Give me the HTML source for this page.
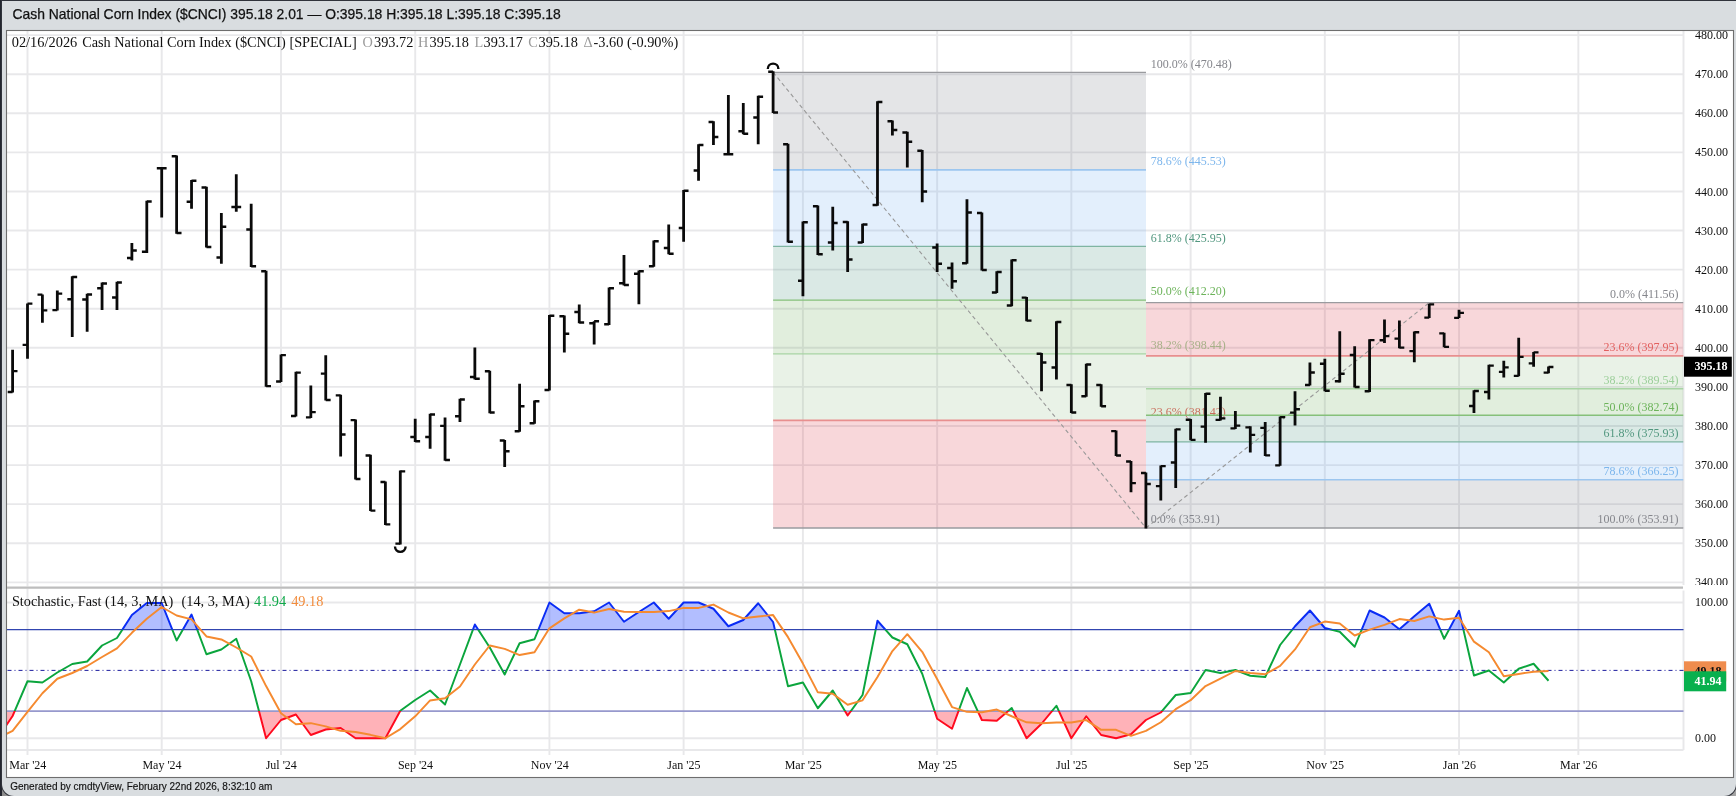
<!DOCTYPE html>
<html><head><meta charset="utf-8"><title>Cash National Corn Index</title>
<style>
html,body{margin:0;padding:0;width:1736px;height:796px;overflow:hidden;background:#23262f;font-family:"Liberation Sans",sans-serif;}
.cnr{position:absolute;top:782px;width:16px;height:14px;background:linear-gradient(90deg,#8a8a8a,#a6a6a6);}
#panel{position:absolute;left:1.7px;top:0.8px;width:1734.3px;height:795.2px;background:#d9dde0;border-radius:0 0 12px 12px;box-shadow:0 0 0 1px #30333b;}
svg{will-change:transform;}
</style></head><body>
<div class="cnr" style="left:1.7px"></div><div class="cnr" style="left:1720px"></div>
<div id="panel"></div>
<svg width="1736" height="796" viewBox="0 0 1736 796" style="position:absolute;left:0;top:0">
<defs>
<clipPath id="cpP"><rect x="7" y="31" width="1676.5" height="554.5"/></clipPath>
<clipPath id="cpA"><rect x="1683.5" y="31" width="50" height="554"/></clipPath>
<clipPath id="cpS"><rect x="7" y="590.5" width="1676.5" height="159.5"/></clipPath>
<clipPath id="cpHi"><rect x="7" y="590.5" width="1676.5" height="39.14999999999998"/></clipPath>
<clipPath id="cpMid"><rect x="7" y="629.65" width="1676.5" height="81.45000000000005"/></clipPath>
<clipPath id="cpLo"><rect x="7" y="711.1" width="1676.5" height="38.89999999999998"/></clipPath>
</defs>
<rect x="6.5" y="30.5" width="1727" height="747" fill="#fff" stroke="#6e6e6e" stroke-width="1.1"/>
<path d="M7 582.35H1683.5M7 543.26H1683.5M7 504.17H1683.5M7 465.08H1683.5M7 425.99H1683.5M7 386.9H1683.5M7 347.81H1683.5M7 308.72H1683.5M7 269.63H1683.5M7 230.54H1683.5M7 191.45H1683.5M7 152.36H1683.5M7 113.27H1683.5M7 74.18H1683.5M7 35.09H1683.5M27.5 31V586.6M27.5 588.8V755M161.71 31V586.6M161.71 588.8V755M281 31V586.6M281 588.8V755M415.21 31V586.6M415.21 588.8V755M549.42 31V586.6M549.42 588.8V755M683.63 31V586.6M683.63 588.8V755M802.92 31V586.6M802.92 588.8V755M937.13 31V586.6M937.13 588.8V755M1071.34 31V586.6M1071.34 588.8V755M1190.64 31V586.6M1190.64 588.8V755M1324.84 31V586.6M1324.84 588.8V755M1459.05 31V586.6M1459.05 588.8V755M1578.35 31V586.6M1578.35 588.8V755M7 738.25H1683.5M7 602.5H1683.5M7 750H1683.5M1683.5 31V585M1683.5 590.5V750" stroke="rgba(50,50,70,0.115)" stroke-width="1.9" fill="none"/>
<path d="M7 587.7H1683.0" stroke="#bdbdbd" stroke-width="2.2"/>
<g clip-path="url(#cpP)" font-family="Liberation Serif, serif" font-size="12">
<rect x="773.1" y="72.3" width="372.9" height="97.53" fill="rgba(120,123,134,0.2)"/>
<rect x="773.1" y="169.83" width="372.9" height="76.54" fill="rgba(115,175,240,0.2)"/>
<rect x="773.1" y="246.37" width="372.9" height="53.75" fill="rgba(70,145,125,0.2)"/>
<rect x="773.1" y="300.12" width="372.9" height="53.79" fill="rgba(105,170,85,0.2)"/>
<rect x="773.1" y="353.91" width="372.9" height="66.53" fill="rgba(145,192,135,0.2)"/>
<rect x="773.1" y="420.44" width="372.9" height="107.54" fill="rgba(220,53,69,0.2)"/>
<path d="M773.1 72.3H1146" stroke="#9a9b9f" stroke-width="1.35"/>
<path d="M773.1 169.83H1146" stroke="#9cc6ef" stroke-width="1.65"/>
<path d="M773.1 246.37H1146" stroke="#7fb5a2" stroke-width="1.35"/>
<path d="M773.1 300.12H1146" stroke="#86c07a" stroke-width="1.35"/>
<path d="M773.1 353.91H1146" stroke="#a8d4a4" stroke-width="1.35"/>
<path d="M773.1 420.44H1146" stroke="#e88f8f" stroke-width="1.65"/>
<path d="M773.1 527.98H1146" stroke="#9a9b9f" stroke-width="1.35"/>
<path d="M773.1 72.3L1146 527.98" stroke="#989898" stroke-width="1.1" stroke-dasharray="4 3" fill="none"/>
<text x="1150.7" y="67.6" text-anchor="start" fill="#85868c">100.0% (470.48)</text>
<text x="1150.7" y="165.13" text-anchor="start" fill="#7db6ec">78.6% (445.53)</text>
<text x="1150.7" y="241.67" text-anchor="start" fill="#52977f">61.8% (425.95)</text>
<text x="1150.7" y="295.42" text-anchor="start" fill="#6cb35a">50.0% (412.20)</text>
<text x="1150.7" y="349.21" text-anchor="start" fill="#9ccf9a">38.2% (398.44)</text>
<text x="1150.7" y="415.74" text-anchor="start" fill="#e2605f">23.6% (381.42)</text>
<text x="1150.7" y="523.28" text-anchor="start" fill="#85868c">0.0% (353.91)</text>
<rect x="1146" y="302.62" width="537.5" height="53.2" fill="rgba(220,53,69,0.2)"/>
<rect x="1146" y="355.82" width="537.5" height="32.87" fill="rgba(145,192,135,0.2)"/>
<rect x="1146" y="388.7" width="537.5" height="26.58" fill="rgba(105,170,85,0.2)"/>
<rect x="1146" y="415.28" width="537.5" height="26.62" fill="rgba(70,145,125,0.2)"/>
<rect x="1146" y="441.9" width="537.5" height="37.84" fill="rgba(115,175,240,0.2)"/>
<rect x="1146" y="479.74" width="537.5" height="48.24" fill="rgba(120,123,134,0.2)"/>
<path d="M1146 302.62H1683.5" stroke="#9a9b9f" stroke-width="1.35"/>
<path d="M1146 355.82H1683.5" stroke="#e88f8f" stroke-width="1.65"/>
<path d="M1146 388.7H1683.5" stroke="#a8d4a4" stroke-width="1.35"/>
<path d="M1146 415.28H1683.5" stroke="#86c07a" stroke-width="1.35"/>
<path d="M1146 441.9H1683.5" stroke="#7fb5a2" stroke-width="1.35"/>
<path d="M1146 479.74H1683.5" stroke="#9cc6ef" stroke-width="1.65"/>
<path d="M1146 527.98H1683.5" stroke="#9a9b9f" stroke-width="1.35"/>
<path d="M1146 527.98L1429.23 302.62" stroke="#989898" stroke-width="1.1" stroke-dasharray="4 3" fill="none"/>
<text x="1678.5" y="297.92" text-anchor="end" fill="#85868c">0.0% (411.56)</text>
<text x="1678.5" y="351.12" text-anchor="end" fill="#e2605f">23.6% (397.95)</text>
<text x="1678.5" y="384" text-anchor="end" fill="#9ccf9a">38.2% (389.54)</text>
<text x="1678.5" y="410.58" text-anchor="end" fill="#6cb35a">50.0% (382.74)</text>
<text x="1678.5" y="437.2" text-anchor="end" fill="#52977f">61.8% (375.93)</text>
<text x="1678.5" y="475.04" text-anchor="end" fill="#7db6ec">78.6% (366.25)</text>
<text x="1678.5" y="523.28" text-anchor="end" fill="#85868c">100.0% (353.91)</text>
</g>
<g clip-path="url(#cpP)" stroke="#0a0a0a" fill="none"><path d="M12.59 349.7V392.5M27.5 303.4V358.8M42.41 294.4V322.7M57.32 290.4V310.4M72.24 276.25V337M87.15 293.75V331.75M102.06 282.5V310M116.97 281.75V310M131.88 243V260.5M146.8 200.75V253M161.71 167.5V217.5M176.62 155.5V233.75M191.53 180V208.75M206.44 186.75V247.5M221.36 213V263.75M236.27 174.25V211.75M251.18 203.75V267M266.09 270.75V386.7M281 354.4V382M295.92 371.8V416.6M310.83 385.6V418M325.74 355.2V400.5M340.65 394.7V456.6M355.56 419.6V479.6M370.48 454.7V511.1M385.39 481.5V525M400.3 470.5V544.5M415.21 418.75V442M430.12 413.75V448.75M445.04 417.5V460.75M459.95 398.75V422M474.86 347.5V379.5M489.77 370.75V413.25M504.68 440V467M519.6 383.75V431.75M534.51 400.5V423.75M549.42 315V390.5M564.33 315.5V352.5M579.24 304.5V323.25M594.16 321.25V344.5M609.07 287.5V325M623.98 255V285.5M638.89 270.5V304.25M653.8 240.5V266.75M668.72 224.5V254.25M683.63 190V241.75M698.54 144.25V180.75M713.45 121.25V145M728.36 95V155M743.28 103V134.25M758.19 95.75V144.25M773.1 71.25V113M788.01 143.75V242.5M802.92 221.5V296.25M817.84 205.5V255M832.75 206.75V250.5M847.66 221.25V272M862.57 223.75V243M877.48 101.25V205.75M892.4 120.5V135.5M907.31 131.75V167.5M922.22 150V202.25M937.13 243.5V272M952.04 262.5V288.75M966.96 199.25V263.75M981.87 212.5V270.5M996.78 271.25V293M1011.69 259.5V306.25M1026.6 297V321.25M1041.52 353V391.25M1056.43 321.25V379.5M1071.34 384.25V413M1086.25 363.75V396.75M1101.16 384.25V406.75M1116.08 430.4V456M1130.99 461V492.3M1145.9 472.4V528.4M1160.81 465.5V500.6M1175.72 428.7V487.9M1190.64 419.1V440.25M1205.55 393V442.8M1220.46 396.75V420.5M1235.37 410.9V429M1250.28 426.3V452.4M1265.2 421.9V456M1280.11 416.5V465.8M1295.02 391.25V425.6M1309.93 362.5V385.5M1324.84 358.75V391.25M1339.76 331.25V382.5M1354.67 346.25V387.5M1369.58 339.25V392M1384.49 319.4V342.9M1399.4 320.5V348.2M1414.32 331.5V362.3M1429.23 303.7V318.1M1444.14 332.7V347.3M1459.05 309.7V318.1M1473.96 390.2V413M1488.88 364.7V399.4M1503.79 360.7V377.4M1518.7 337.8V376.3M1533.61 351.9V366.8M1548.52 366.5V373.2" stroke-width="2.8"/><path d="M7.69 392H12.59M12.59 371.2H17.49M22.6 344.8H27.5M27.5 303.6H32.4M37.51 294.6H42.41M42.41 310.3H47.31M52.42 310.2H57.32M57.32 293.6H62.22M67.34 299.25H72.24M72.24 277H77.14M82.25 299.5H87.15M87.15 294.5H92.05M97.16 288.25H102.06M102.06 283.5H106.96M112.07 297.5H116.97M116.97 282.5H121.87M126.98 258H131.88M131.88 250.5H136.78M141.9 251.75H146.8M146.8 201.5H151.7M156.81 168.25H161.71M161.71 168.25H166.61M171.72 156.25H176.62M176.62 233H181.52M186.63 201.75H191.53M191.53 180.75H196.43M201.54 187.5H206.44M206.44 247H211.34M216.46 257.5H221.36M221.36 226.75H226.26M231.37 207H236.27M236.27 207H241.17M246.28 229.5H251.18M251.18 266.25H256.08M261.19 271.25H266.09M266.09 386.2H270.99M276.1 381.5H281M281 355.2H285.9M291.02 416H295.92M295.92 372.6H300.82M305.93 417.4H310.83M310.83 412.1H315.73M320.84 373.7H325.74M325.74 400H330.64M335.75 395.3H340.65M340.65 434.5H345.55M350.66 420.2H355.56M355.56 479H360.46M365.58 455.5H370.48M370.48 510.6H375.38M380.49 482H385.39M385.39 524.4H390.29M395.4 543.7H400.3M400.3 471.3H405.2M410.31 437H415.21M415.21 441.25H420.11M425.22 437H430.12M430.12 414.5H435.02M440.14 425.8H445.04M445.04 460H449.94M455.05 416.25H459.95M459.95 399.5H464.85M469.96 377H474.86M474.86 378.75H479.76M484.87 371.25H489.77M489.77 412.5H494.67M499.78 440.5H504.68M504.68 451.25H509.58M514.7 431.25H519.6M519.6 406.25H524.5M529.61 423.25H534.51M534.51 401.25H539.41M544.52 390H549.42M549.42 315.75H554.32M559.43 316.25H564.33M564.33 333.75H569.23M574.34 312H579.24M579.24 322.5H584.14M589.26 323.25H594.16M594.16 321.25H599.06M604.17 324.25H609.07M609.07 288.25H613.97M619.08 283.25H623.98M623.98 285H628.88M633.99 273.75H638.89M638.89 271.25H643.79M648.9 266.25H653.8M653.8 241.25H658.7M663.82 248H668.72M668.72 253.75H673.62M678.73 228H683.63M683.63 190.75H688.53M693.64 170.5H698.54M698.54 145H703.44M708.55 122H713.45M713.45 137H718.35M723.46 154.25H728.36M728.36 154.25H733.26M738.38 131.25H743.28M743.28 133.75H748.18M753.29 117.5H758.19M758.19 96.75H763.09M768.2 71.75H773.1M773.1 112.5H778M783.11 144.25H788.01M788.01 241.75H792.91M798.02 280.75H802.92M802.92 222.25H807.82M812.94 206.25H817.84M817.84 254.25H822.74M827.85 242.5H832.75M832.75 223H837.65M842.76 222H847.66M847.66 259.5H852.56M857.67 242.5H862.57M862.57 224.5H867.47M872.58 205H877.48M877.48 102H882.38M887.5 121.25H892.4M892.4 130H897.3M902.41 132.5H907.31M907.31 141.75H912.21M917.32 150.75H922.22M922.22 191.5H927.12M932.23 247.5H937.13M937.13 263.75H942.03M947.14 268H952.04M952.04 281.25H956.94M962.06 263.25H966.96M966.96 212.5H971.86M976.97 213H981.87M981.87 270H986.77M991.88 292.5H996.78M996.78 272H1001.68M1006.79 305.5H1011.69M1011.69 260.25H1016.59M1021.7 297.6H1026.6M1026.6 320.6H1031.5M1036.62 353.75H1041.52M1041.52 362.5H1046.42M1051.53 367.5H1056.43M1056.43 322H1061.33M1066.44 385H1071.34M1071.34 412.5H1076.24M1081.35 396.25H1086.25M1086.25 364.5H1091.15M1096.26 385H1101.16M1101.16 406.25H1106.06M1111.18 431.2H1116.08M1116.08 455.5H1120.98M1126.09 461.5H1130.99M1130.99 483.2H1135.89M1141 473H1145.9M1145.9 484H1150.8M1155.91 486.2H1160.81M1160.81 466.2H1165.71M1170.82 462.5H1175.72M1175.72 429.4H1180.62M1185.74 419.75H1190.64M1190.64 439.8H1195.54M1200.65 426.7H1205.55M1205.55 393.75H1210.45M1215.56 419.8H1220.46M1220.46 418.4H1225.36M1230.47 428.4H1235.37M1235.37 425.6H1240.27M1245.38 427.4H1250.28M1250.28 434.8H1255.18M1260.3 427.8H1265.2M1265.2 455.4H1270.1M1275.21 465.3H1280.11M1280.11 417.1H1285.01M1290.12 412.6H1295.02M1295.02 409.25H1299.92M1305.03 385H1309.93M1309.93 372.5H1314.83M1319.94 363.75H1324.84M1324.84 390.75H1329.74M1334.86 381.25H1339.76M1339.76 373.75H1344.66M1349.77 355H1354.67M1354.67 387H1359.57M1364.68 391.25H1369.58M1369.58 340.2H1374.48M1379.59 340.25H1384.49M1384.49 336.2H1389.39M1394.5 338.7H1399.4M1399.4 347.6H1404.3M1409.42 351.1H1414.32M1414.32 332.25H1419.22M1424.33 317.6H1429.23M1429.23 304.4H1434.13M1439.24 333.3H1444.14M1444.14 346.8H1449.04M1454.15 317.8H1459.05M1459.05 312.9H1463.95M1469.06 406H1473.96M1473.96 391H1478.86M1483.98 392H1488.88M1488.88 365.6H1493.78M1498.89 371.8H1503.79M1503.79 367.4H1508.69M1513.8 375.8H1518.7M1518.7 356.8H1523.6M1528.71 363.3H1533.61M1533.61 352.4H1538.51M1543.62 372.6H1548.52M1548.52 367H1553.42" stroke-width="2.3"/></g>
<path d="M767.8 68.9A5.3 5.3 0 0 1 778.4 68.9" stroke="#0a0a0a" stroke-width="2.4" fill="none"/>
<path d="M395 546.6A5.3 5.3 0 0 0 405.6 546.6" stroke="#0a0a0a" stroke-width="2.4" fill="none"/>
<g font-family="Liberation Serif, serif" font-size="12" fill="#111" text-anchor="start">
<g clip-path="url(#cpA)">
<text x="1695" y="586.45">340.00</text>
<text x="1695" y="547.36">350.00</text>
<text x="1695" y="508.27">360.00</text>
<text x="1695" y="469.18">370.00</text>
<text x="1695" y="430.09">380.00</text>
<text x="1695" y="391">390.00</text>
<text x="1695" y="351.91">400.00</text>
<text x="1695" y="312.82">410.00</text>
<text x="1695" y="273.73">420.00</text>
<text x="1695" y="234.64">430.00</text>
<text x="1695" y="195.55">440.00</text>
<text x="1695" y="156.46">450.00</text>
<text x="1695" y="117.37">460.00</text>
<text x="1695" y="78.28">470.00</text>
<text x="1695" y="39.19">480.00</text>
</g>
<text x="1695" y="741.85">0.00</text>
<text x="1695" y="606.1">100.00</text>
</g>
<g>
<polygon clip-path="url(#cpHi)" points="-47.06,629.65 -47.06,738.25 -32.15,738.25 -17.24,738.25 -2.32,738.25 12.59,716 27.5,681.25 42.41,682.5 57.32,672.5 72.24,664 87.15,661.5 102.06,645.5 116.97,638 131.88,615 146.8,603 161.71,603 176.62,640.5 191.53,614.5 206.44,654.25 221.36,649.5 236.27,638.75 251.18,681.25 266.09,738.25 281,720 295.92,714.5 310.83,735 325.74,729.5 340.65,728 355.56,738.25 370.48,738.25 385.39,738.25 400.3,710.75 415.21,700 430.12,690.5 445.04,704.5 459.95,664.5 474.86,624.5 489.77,647.5 504.68,674.5 519.6,643.25 534.51,639.25 549.42,602.5 564.33,613.25 579.24,613.25 594.16,611.25 609.07,602.5 623.98,621.75 638.89,612 653.8,602.5 668.72,618.75 683.63,602.5 698.54,602.5 713.45,608.75 728.36,626.25 743.28,620 758.19,603.25 773.1,622 788.01,686.25 802.92,682.5 817.84,708.25 832.75,690.5 847.66,715.5 862.57,695 877.48,620.75 892.4,637.5 907.31,644.25 922.22,673.75 937.13,718.75 952.04,728.75 966.96,688 981.87,720 996.78,720.75 1011.69,708 1026.6,738.25 1041.52,723.75 1056.43,705.75 1071.34,738.25 1086.25,716.25 1101.16,735 1116.08,738.25 1130.99,734.25 1145.9,720 1160.81,712.5 1175.72,695 1190.64,693 1205.55,670 1220.46,673 1235.37,670 1250.28,675.75 1265.2,677 1280.11,645 1295.02,626.25 1309.93,610.5 1324.84,628 1339.76,631.75 1354.67,646.75 1369.58,610.5 1384.49,617.5 1399.4,629.25 1414.32,616.25 1429.23,603.75 1444.14,638.75 1459.05,610.75 1473.96,675.5 1488.88,670.5 1503.79,682.5 1518.7,668.75 1533.61,663.75 1548.52,680.75 1548.52,629.65" fill="rgba(0,40,255,0.3)"/>
<polygon clip-path="url(#cpLo)" points="-47.06,711.1 -47.06,738.25 -32.15,738.25 -17.24,738.25 -2.32,738.25 12.59,716 27.5,681.25 42.41,682.5 57.32,672.5 72.24,664 87.15,661.5 102.06,645.5 116.97,638 131.88,615 146.8,603 161.71,603 176.62,640.5 191.53,614.5 206.44,654.25 221.36,649.5 236.27,638.75 251.18,681.25 266.09,738.25 281,720 295.92,714.5 310.83,735 325.74,729.5 340.65,728 355.56,738.25 370.48,738.25 385.39,738.25 400.3,710.75 415.21,700 430.12,690.5 445.04,704.5 459.95,664.5 474.86,624.5 489.77,647.5 504.68,674.5 519.6,643.25 534.51,639.25 549.42,602.5 564.33,613.25 579.24,613.25 594.16,611.25 609.07,602.5 623.98,621.75 638.89,612 653.8,602.5 668.72,618.75 683.63,602.5 698.54,602.5 713.45,608.75 728.36,626.25 743.28,620 758.19,603.25 773.1,622 788.01,686.25 802.92,682.5 817.84,708.25 832.75,690.5 847.66,715.5 862.57,695 877.48,620.75 892.4,637.5 907.31,644.25 922.22,673.75 937.13,718.75 952.04,728.75 966.96,688 981.87,720 996.78,720.75 1011.69,708 1026.6,738.25 1041.52,723.75 1056.43,705.75 1071.34,738.25 1086.25,716.25 1101.16,735 1116.08,738.25 1130.99,734.25 1145.9,720 1160.81,712.5 1175.72,695 1190.64,693 1205.55,670 1220.46,673 1235.37,670 1250.28,675.75 1265.2,677 1280.11,645 1295.02,626.25 1309.93,610.5 1324.84,628 1339.76,631.75 1354.67,646.75 1369.58,610.5 1384.49,617.5 1399.4,629.25 1414.32,616.25 1429.23,603.75 1444.14,638.75 1459.05,610.75 1473.96,675.5 1488.88,670.5 1503.79,682.5 1518.7,668.75 1533.61,663.75 1548.52,680.75 1548.52,711.1" fill="rgba(255,0,20,0.3)"/>
<path d="M7 629.65H1683.5" stroke="#3145b0" stroke-width="1.2"/>
<path d="M7 711.1H1683.5" stroke="#9799cd" stroke-width="1.6"/>
<path d="M7 670.38H1683.5" stroke="#1b1b9e" stroke-width="1.0" stroke-dasharray="4 3 1 3" stroke-dashoffset="10.5"/>
<polyline clip-path="url(#cpHi)" points="-47.06,738.25 -32.15,738.25 -17.24,738.25 -2.32,738.25 12.59,716 27.5,681.25 42.41,682.5 57.32,672.5 72.24,664 87.15,661.5 102.06,645.5 116.97,638 131.88,615 146.8,603 161.71,603 176.62,640.5 191.53,614.5 206.44,654.25 221.36,649.5 236.27,638.75 251.18,681.25 266.09,738.25 281,720 295.92,714.5 310.83,735 325.74,729.5 340.65,728 355.56,738.25 370.48,738.25 385.39,738.25 400.3,710.75 415.21,700 430.12,690.5 445.04,704.5 459.95,664.5 474.86,624.5 489.77,647.5 504.68,674.5 519.6,643.25 534.51,639.25 549.42,602.5 564.33,613.25 579.24,613.25 594.16,611.25 609.07,602.5 623.98,621.75 638.89,612 653.8,602.5 668.72,618.75 683.63,602.5 698.54,602.5 713.45,608.75 728.36,626.25 743.28,620 758.19,603.25 773.1,622 788.01,686.25 802.92,682.5 817.84,708.25 832.75,690.5 847.66,715.5 862.57,695 877.48,620.75 892.4,637.5 907.31,644.25 922.22,673.75 937.13,718.75 952.04,728.75 966.96,688 981.87,720 996.78,720.75 1011.69,708 1026.6,738.25 1041.52,723.75 1056.43,705.75 1071.34,738.25 1086.25,716.25 1101.16,735 1116.08,738.25 1130.99,734.25 1145.9,720 1160.81,712.5 1175.72,695 1190.64,693 1205.55,670 1220.46,673 1235.37,670 1250.28,675.75 1265.2,677 1280.11,645 1295.02,626.25 1309.93,610.5 1324.84,628 1339.76,631.75 1354.67,646.75 1369.58,610.5 1384.49,617.5 1399.4,629.25 1414.32,616.25 1429.23,603.75 1444.14,638.75 1459.05,610.75 1473.96,675.5 1488.88,670.5 1503.79,682.5 1518.7,668.75 1533.61,663.75 1548.52,680.75" stroke="#0a2cf5" stroke-width="1.95" fill="none" stroke-linejoin="round"/>
<polyline clip-path="url(#cpMid)" points="-47.06,738.25 -32.15,738.25 -17.24,738.25 -2.32,738.25 12.59,716 27.5,681.25 42.41,682.5 57.32,672.5 72.24,664 87.15,661.5 102.06,645.5 116.97,638 131.88,615 146.8,603 161.71,603 176.62,640.5 191.53,614.5 206.44,654.25 221.36,649.5 236.27,638.75 251.18,681.25 266.09,738.25 281,720 295.92,714.5 310.83,735 325.74,729.5 340.65,728 355.56,738.25 370.48,738.25 385.39,738.25 400.3,710.75 415.21,700 430.12,690.5 445.04,704.5 459.95,664.5 474.86,624.5 489.77,647.5 504.68,674.5 519.6,643.25 534.51,639.25 549.42,602.5 564.33,613.25 579.24,613.25 594.16,611.25 609.07,602.5 623.98,621.75 638.89,612 653.8,602.5 668.72,618.75 683.63,602.5 698.54,602.5 713.45,608.75 728.36,626.25 743.28,620 758.19,603.25 773.1,622 788.01,686.25 802.92,682.5 817.84,708.25 832.75,690.5 847.66,715.5 862.57,695 877.48,620.75 892.4,637.5 907.31,644.25 922.22,673.75 937.13,718.75 952.04,728.75 966.96,688 981.87,720 996.78,720.75 1011.69,708 1026.6,738.25 1041.52,723.75 1056.43,705.75 1071.34,738.25 1086.25,716.25 1101.16,735 1116.08,738.25 1130.99,734.25 1145.9,720 1160.81,712.5 1175.72,695 1190.64,693 1205.55,670 1220.46,673 1235.37,670 1250.28,675.75 1265.2,677 1280.11,645 1295.02,626.25 1309.93,610.5 1324.84,628 1339.76,631.75 1354.67,646.75 1369.58,610.5 1384.49,617.5 1399.4,629.25 1414.32,616.25 1429.23,603.75 1444.14,638.75 1459.05,610.75 1473.96,675.5 1488.88,670.5 1503.79,682.5 1518.7,668.75 1533.61,663.75 1548.52,680.75" stroke="#0ba53d" stroke-width="1.95" fill="none" stroke-linejoin="round"/>
<polyline clip-path="url(#cpLo)" points="-47.06,738.25 -32.15,738.25 -17.24,738.25 -2.32,738.25 12.59,716 27.5,681.25 42.41,682.5 57.32,672.5 72.24,664 87.15,661.5 102.06,645.5 116.97,638 131.88,615 146.8,603 161.71,603 176.62,640.5 191.53,614.5 206.44,654.25 221.36,649.5 236.27,638.75 251.18,681.25 266.09,738.25 281,720 295.92,714.5 310.83,735 325.74,729.5 340.65,728 355.56,738.25 370.48,738.25 385.39,738.25 400.3,710.75 415.21,700 430.12,690.5 445.04,704.5 459.95,664.5 474.86,624.5 489.77,647.5 504.68,674.5 519.6,643.25 534.51,639.25 549.42,602.5 564.33,613.25 579.24,613.25 594.16,611.25 609.07,602.5 623.98,621.75 638.89,612 653.8,602.5 668.72,618.75 683.63,602.5 698.54,602.5 713.45,608.75 728.36,626.25 743.28,620 758.19,603.25 773.1,622 788.01,686.25 802.92,682.5 817.84,708.25 832.75,690.5 847.66,715.5 862.57,695 877.48,620.75 892.4,637.5 907.31,644.25 922.22,673.75 937.13,718.75 952.04,728.75 966.96,688 981.87,720 996.78,720.75 1011.69,708 1026.6,738.25 1041.52,723.75 1056.43,705.75 1071.34,738.25 1086.25,716.25 1101.16,735 1116.08,738.25 1130.99,734.25 1145.9,720 1160.81,712.5 1175.72,695 1190.64,693 1205.55,670 1220.46,673 1235.37,670 1250.28,675.75 1265.2,677 1280.11,645 1295.02,626.25 1309.93,610.5 1324.84,628 1339.76,631.75 1354.67,646.75 1369.58,610.5 1384.49,617.5 1399.4,629.25 1414.32,616.25 1429.23,603.75 1444.14,638.75 1459.05,610.75 1473.96,675.5 1488.88,670.5 1503.79,682.5 1518.7,668.75 1533.61,663.75 1548.52,680.75" stroke="#ff0a1e" stroke-width="1.95" fill="none" stroke-linejoin="round"/>
<polyline clip-path="url(#cpS)" points="-17.24,738.25 -2.32,738.25 12.59,730.83 27.5,711.83 42.41,693.25 57.32,678.75 72.24,673 87.15,666 102.06,657 116.97,648.33 131.88,632.83 146.8,618.67 161.71,607 176.62,615.5 191.53,619.33 206.44,636.42 221.36,639.42 236.27,647.5 251.18,656.5 266.09,686.08 281,713.17 295.92,724.25 310.83,723.17 325.74,726.33 340.65,730.83 355.56,731.92 370.48,734.83 385.39,738.25 400.3,729.08 415.21,716.33 430.12,700.42 445.04,698.33 459.95,686.5 474.86,664.5 489.77,645.5 504.68,648.83 519.6,655.08 534.51,652.33 549.42,628.33 564.33,618.33 579.24,609.67 594.16,612.58 609.07,609 623.98,611.83 638.89,612.08 653.8,612.08 668.72,611.08 683.63,607.92 698.54,607.92 713.45,604.58 728.36,612.5 743.28,618.33 758.19,616.5 773.1,615.08 788.01,637.17 802.92,663.58 817.84,692.33 832.75,693.75 847.66,704.75 862.57,700.33 877.48,677.08 892.4,651.08 907.31,634.17 922.22,651.83 937.13,678.92 952.04,707.08 966.96,711.83 981.87,712.25 996.78,709.58 1011.69,716.25 1026.6,722.33 1041.52,723.33 1056.43,722.58 1071.34,722.58 1086.25,720.08 1101.16,729.83 1116.08,729.83 1130.99,735.83 1145.9,730.83 1160.81,722.25 1175.72,709.17 1190.64,700.17 1205.55,686 1220.46,678.67 1235.37,671 1250.28,672.92 1265.2,674.25 1280.11,665.92 1295.02,649.42 1309.93,627.25 1324.84,621.58 1339.76,623.42 1354.67,635.5 1369.58,629.67 1384.49,624.92 1399.4,619.08 1414.32,621 1429.23,616.42 1444.14,619.58 1459.05,617.75 1473.96,641.67 1488.88,652.25 1503.79,676.17 1518.7,673.92 1533.61,671.67 1548.52,671.08" stroke="#f58a30" stroke-width="1.95" fill="none" stroke-linejoin="round"/>
</g>
<g font-family="Liberation Serif, serif" font-size="12" font-weight="bold" fill="#fff" text-anchor="start">
<rect x="1684" y="356.7" width="47.8" height="20" fill="#000"/><text x="1694.6" y="370.3">395.18</text>
<rect x="1684" y="661.3" width="42.2" height="20" fill="#ef8c4e"/><text x="1694.4" y="675.4" fill="#111">49.18</text>
<rect x="1684" y="671.3" width="42.2" height="20" fill="#08b04e"/><text x="1694.4" y="685.4">41.94</text>
</g>
<g font-family="Liberation Serif, serif" font-size="14.3" fill="#111">
<text x="11.7" y="46.6" textLength="65.6" lengthAdjust="spacingAndGlyphs">02/16/2026</text>
<text x="82.2" y="46.6" textLength="274.6" lengthAdjust="spacingAndGlyphs">Cash National Corn Index ($CNCI) [SPECIAL]</text>
<text x="362.6" y="46.6" fill="#9a9a9a">O</text><text x="374" y="46.6">393.72</text>
<text x="418.1" y="46.6" fill="#9a9a9a">H</text><text x="429.6" y="46.6">395.18</text>
<text x="474.6" y="46.6" fill="#9a9a9a">L</text><text x="483.6" y="46.6">393.17</text>
<text x="528.3" y="46.6" fill="#9a9a9a">C</text><text x="538.5" y="46.6">395.18</text>
<text x="583.5" y="46.6" fill="#9a9a9a">Δ</text><text x="593.6" y="46.6">-3.60 (-0.90%)</text>
<text x="11.9" y="606" textLength="161.4" lengthAdjust="spacingAndGlyphs">Stochastic, Fast (14, 3, MA)</text>
<text x="181.5" y="606">(14, 3, MA)</text>
<text x="254" y="606" fill="#0fa84a">41.94</text>
<text x="291.2" y="606" fill="#f28c3c">49.18</text>
</g>
<g font-family="Liberation Serif, serif" font-size="12" fill="#111" text-anchor="middle">
<text x="27.8" y="769">Mar '24</text>
<text x="162.01" y="769">May '24</text>
<text x="281.3" y="769">Jul '24</text>
<text x="415.51" y="769">Sep '24</text>
<text x="549.72" y="769">Nov '24</text>
<text x="683.93" y="769">Jan '25</text>
<text x="803.22" y="769">Mar '25</text>
<text x="937.43" y="769">May '25</text>
<text x="1071.64" y="769">Jul '25</text>
<text x="1190.94" y="769">Sep '25</text>
<text x="1325.14" y="769">Nov '25</text>
<text x="1459.35" y="769">Jan '26</text>
<text x="1578.65" y="769">Mar '26</text>
</g>
<text x="12.5" y="19" font-family="Liberation Sans, sans-serif" font-size="13.9" fill="#111" stroke="#111" stroke-width="0.25">Cash National Corn Index ($CNCI) 395.18 2.01 — O:395.18 H:395.18 L:395.18 C:395.18</text>
<text x="10.2" y="789.8" font-family="Liberation Sans, sans-serif" font-size="10" fill="#111" stroke="#111" stroke-width="0.15">Generated by cmdtyView, February 22nd 2026, 8:32:10 am</text>
</svg>
</body></html>
